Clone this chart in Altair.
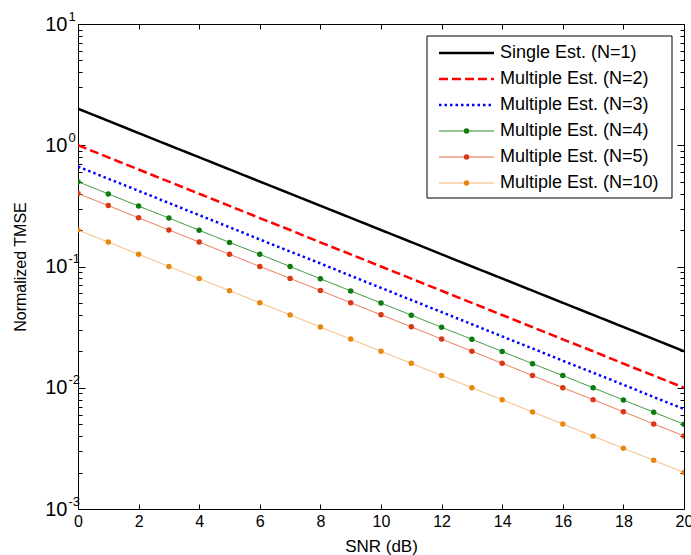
import altair as alt
import pandas as pd

# ---------------- data ----------------
snr_db = list(range(21))

series_names = [
    "Single Est. (N=1)",
    "Multiple Est. (N=2)",
    "Multiple Est. (N=3)",
    "Multiple Est. (N=4)",
    "Multiple Est. (N=5)",
    "Multiple Est. (N=10)",
]

tmse_n1 = [2.00, 1.59, 1.26, 1.00, 0.796, 0.632, 0.502, 0.399, 0.317, 0.252, 0.200,
           0.159, 0.126, 0.100, 0.0796, 0.0632, 0.0502, 0.0399, 0.0317, 0.0252, 0.0200]
tmse_n2 = [1.00, 0.794, 0.631, 0.501, 0.398, 0.316, 0.251, 0.200, 0.158, 0.126, 0.100,
           0.0794, 0.0631, 0.0501, 0.0398, 0.0316, 0.0251, 0.0200, 0.0158, 0.0126, 0.0100]
tmse_n3 = [0.667, 0.529, 0.421, 0.334, 0.265, 0.211, 0.167, 0.133, 0.106, 0.0838, 0.0667,
           0.0529, 0.0421, 0.0334, 0.0265, 0.0211, 0.0167, 0.0133, 0.0106, 0.00838, 0.00667]
tmse_n4 = [0.500, 0.397, 0.315, 0.251, 0.199, 0.158, 0.126, 0.100, 0.0792, 0.0629, 0.0500,
           0.0397, 0.0315, 0.0251, 0.0199, 0.0158, 0.0126, 0.0100, 0.00792, 0.00629, 0.00500]
tmse_n5 = [0.400, 0.318, 0.252, 0.200, 0.159, 0.126, 0.100, 0.0798, 0.0634, 0.0503, 0.0400,
           0.0318, 0.0252, 0.0200, 0.0159, 0.0126, 0.0100, 0.00798, 0.00634, 0.00503, 0.00400]
tmse_n10 = [0.200, 0.159, 0.126, 0.100, 0.0796, 0.0632, 0.0502, 0.0399, 0.0317, 0.0252, 0.0200,
            0.0159, 0.0126, 0.0100, 0.00796, 0.00632, 0.00502, 0.00399, 0.00317, 0.00252, 0.00200]

all_series = [tmse_n1, tmse_n2, tmse_n3, tmse_n4, tmse_n5, tmse_n10]
marker_series = series_names[3:]

x_tick_values = [0, 2, 4, 6, 8, 10, 12, 14, 16, 18, 20]
y_major_values = [0.001, 0.01, 0.1, 1, 10]
y_minor_values = [m * d for d in [0.001, 0.01, 0.1, 1] for m in range(2, 10)]

# ---------------- styles ----------------
line_colors = ["#000000", "#ff0000", "#0000ff", "#2a8c2a", "#ec6848", "#f5b56e"]
marker_colors = ["#0c7d0c", "#da3614", "#e8870f"]
dashes = [[1, 0], [9, 4], [2.5, 3], [1, 0], [1, 0], [1, 0]]

W, H = 606, 485
FONT = "Liberation Sans"

rows = []
for name, vals in zip(series_names, all_series):
    for s, v in zip(snr_db, vals):
        rows.append({"snr": s, "val": v, "series": name})
df = pd.DataFrame(rows)
df_pts = df[df["series"].isin(marker_series)]

legend_df = pd.DataFrame({"series": series_names, "row": list(range(len(series_names)))})
legend_pts = legend_df[legend_df["series"].isin(marker_series)]

xs = alt.Scale(domain=[0, 20], nice=False, zero=False)
ys = alt.Scale(type="log", domain=[0.001, 10], nice=False)

color_enc = alt.Color("series:N", scale=alt.Scale(domain=series_names, range=line_colors),
                      legend=None)
dash_enc = alt.StrokeDash("series:N", scale=alt.Scale(domain=series_names, range=dashes),
                          legend=None)
fill_enc = alt.Fill("series:N", scale=alt.Scale(domain=marker_series, range=marker_colors),
                    legend=None)
thick_test = " || ".join("datum.series == '%s'" % n for n in series_names[:3])
width_enc = alt.condition(thick_test, alt.value(2.5), alt.value(1))


def tick_axis(orient, offset, values, size):
    return alt.Axis(orient=orient, offset=offset, values=values, labels=False,
                    domain=False, ticks=True, tickSize=size, title=None,
                    grid=False, tickColor="black", tickWidth=1)


lines = alt.Chart(df).mark_line(clip=True).encode(
    x=alt.X("snr:Q", scale=xs, axis=alt.Axis(
        orient="bottom", values=x_tick_values, ticks=False, domain=False,
        labelFontSize=16, labelPadding=4, labelFlush=False, title="SNR (dB)",
        titleFontSize=17, titleX=W / 2, titleY=37, titleBaseline="middle",
        titleAlign="center", grid=False)),
    y=alt.Y("val:Q", scale=ys, axis=alt.Axis(
        orient="left", values=y_major_values, labelExpr="'10'", ticks=False,
        domain=False, labelFontSize=20, labelPadding=11, labelFlush=False,
        labelOverlap=False, title="Normalized TMSE", titleFontSize=16,
        titleX=-58, titleY=H / 2, titleAngle=270, titleAlign="center",
        titleBaseline="middle", grid=False)),
    color=color_enc,
    strokeDash=dash_enc,
    strokeWidth=width_enc,
    order="snr:Q",
)

points = alt.Chart(df_pts).mark_circle(size=30, opacity=1, clip=True).encode(
    x=alt.X("snr:Q", scale=xs, axis=tick_axis("top", -H, x_tick_values, 5)),
    y=alt.Y("val:Q", scale=ys, axis=tick_axis("right", -W, y_major_values, 7)),
    fill=fill_enc,
)

inv = alt.Chart(df).mark_point(opacity=0)
top_ticks = inv.encode(
    x=alt.X("snr:Q", scale=xs, axis=tick_axis("bottom", -H, x_tick_values, 5)),
    y=alt.Y("val:Q", scale=ys, axis=tick_axis("left", -W, y_major_values, 7)),
)
minor_left = inv.encode(
    x=alt.X("snr:Q", scale=xs, axis=None),
    y=alt.Y("val:Q", scale=ys, axis=tick_axis("right", -W, y_minor_values, 4)),
)
minor_right = inv.encode(
    x=alt.X("snr:Q", scale=xs, axis=None),
    y=alt.Y("val:Q", scale=ys, axis=tick_axis("left", -W, y_minor_values, 4)),
)
exponents = inv.encode(
    x=alt.X("snr:Q", scale=xs, axis=None),
    y=alt.Y("val:Q", scale=ys, axis=alt.Axis(
        orient="left", values=y_major_values,
        labelExpr="'' + round(log(datum.value) / LN10)",
        ticks=False, domain=False, labelFontSize=13, labelPadding=10,
        labelAlign="left", labelOffset=-8, labelFlush=False, labelOverlap=False,
        title=None, grid=False)),
)

# ---------------- legend (drawn as marks, laid out in pixels) ----------------
LEG_X0, LEG_X1, LEG_Y0, LEG_Y1 = 349, 594, 12, 174
row_scale = alt.Scale(domain=[0, 5], range=[29, 159])

leg_box = alt.Chart(pd.DataFrame({"k": [0]})).mark_rect(
    fill="white", stroke="black", strokeWidth=1
).encode(x=alt.value(LEG_X0), x2=alt.value(LEG_X1), y=alt.value(LEG_Y0), y2=alt.value(LEG_Y1))

leg_lines = alt.Chart(legend_df).mark_rule().encode(
    x=alt.value(361), x2=alt.value(416),
    y=alt.Y("row:Q", scale=row_scale, axis=None),
    color=color_enc, strokeDash=dash_enc, strokeWidth=width_enc,
)
leg_dots = alt.Chart(legend_pts).mark_circle(size=30, opacity=1).encode(
    x=alt.value(388.5),
    y=alt.Y("row:Q", scale=row_scale, axis=None),
    fill=fill_enc,
)
leg_text = alt.Chart(legend_df).mark_text(
    align="left", baseline="middle", font=FONT, fontSize=18, color="black"
).encode(
    x=alt.value(422),
    y=alt.Y("row:Q", scale=row_scale, axis=None),
    text="series:N",
)

chart = alt.layer(
    lines, points, top_ticks, minor_left, minor_right, exponents,
    leg_box, leg_lines, leg_dots, leg_text
).resolve_axis(
    x="independent", y="independent"
).resolve_scale(
    y="independent"
).properties(
    width=W, height=H,
    autosize=alt.AutoSizeParams(type="none"),
    padding={"left": 78, "top": 24, "right": 7, "bottom": 46},
    background="white",
).configure_view(
    stroke="black", strokeWidth=1
).configure_axis(
    labelFont=FONT, titleFont=FONT, labelColor="black", titleColor="black",
    titleFontWeight="normal", tickColor="black",
)

chart.save("out.html", embed_options={"renderer": "svg", "actions": False})
